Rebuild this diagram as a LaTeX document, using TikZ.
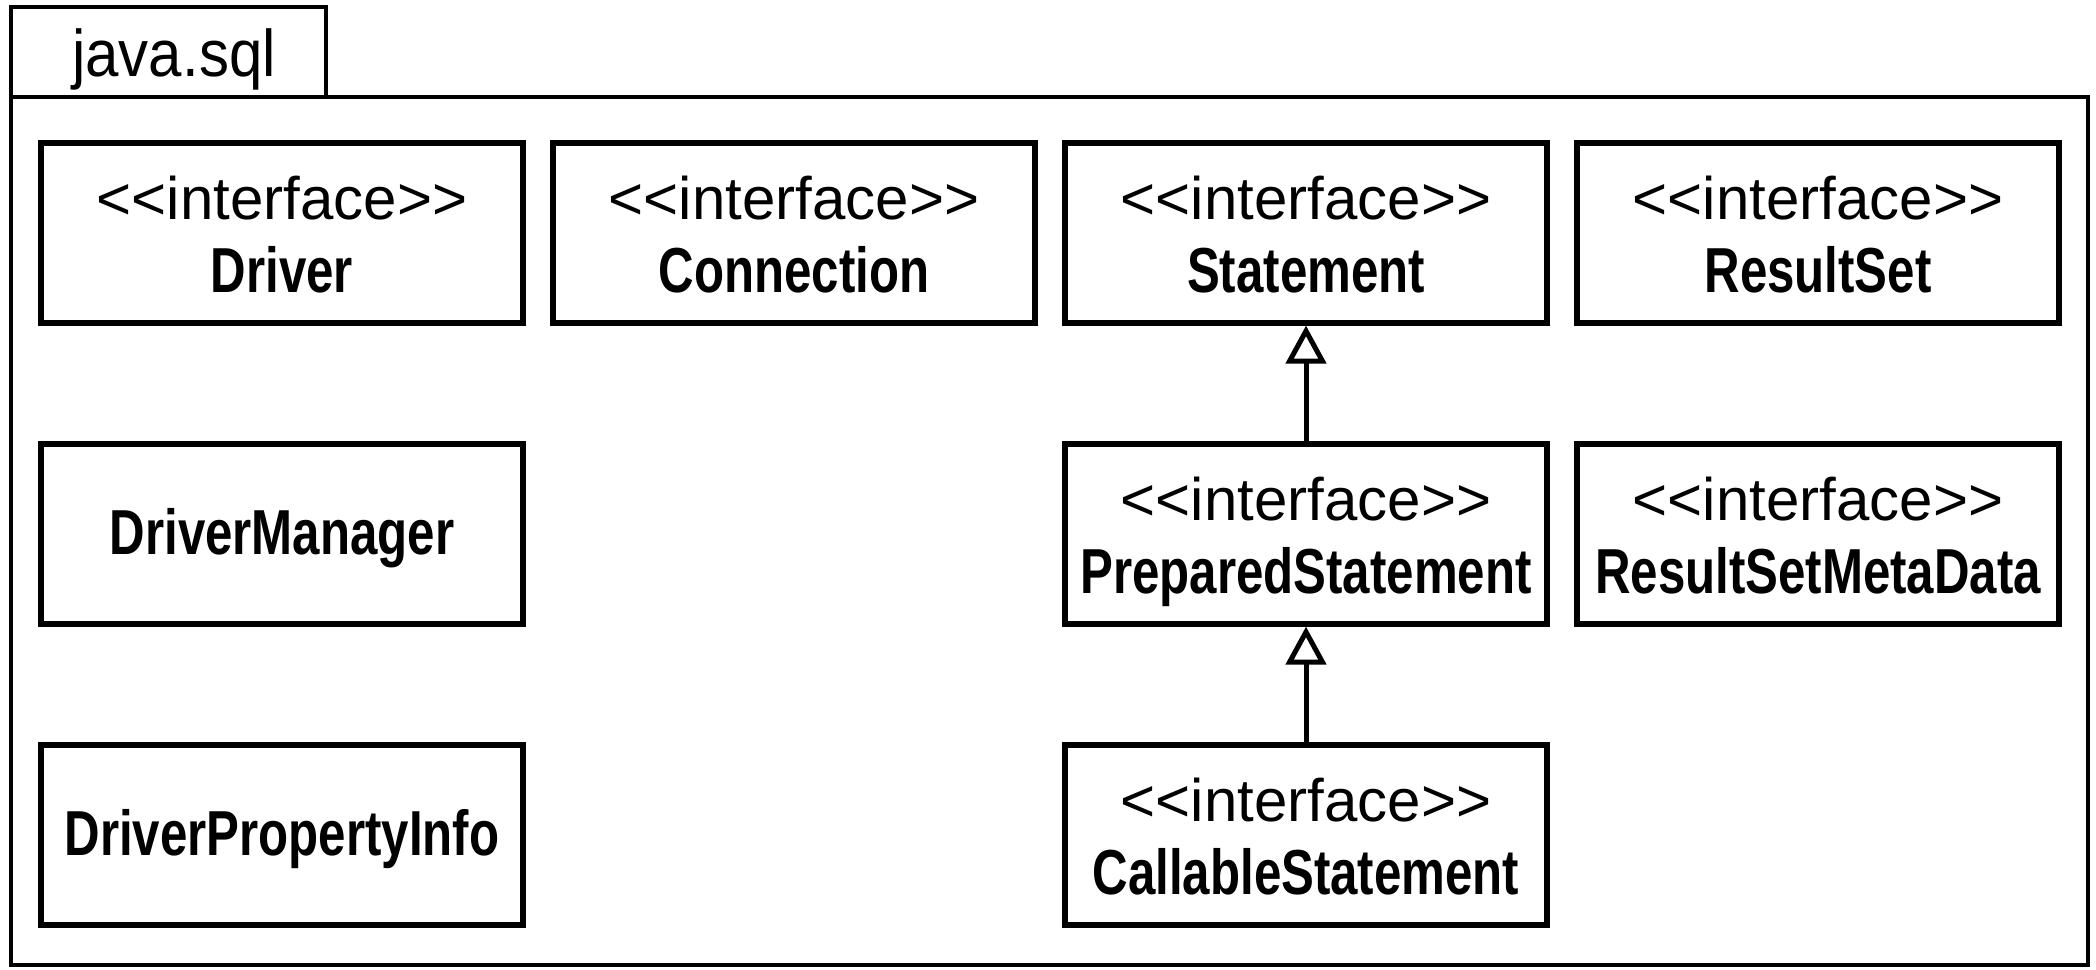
\documentclass[tikz,border=0pt]{standalone}
\usepackage{graphicx}
\usepackage{fontspec}
\setmainfont{Liberation Sans}[Ligatures=TeXOff]
\usetikzlibrary{arrows.meta}
\newcommand\cnd[1]{\scalebox{0.82}[1.06]{\bfseries #1}}
\tikzset{
  frame/.style={draw, line width=2.4pt, inner sep=0pt},
  cls/.style={draw, line width=2.6pt, minimum width=241pt, minimum height=90pt, inner sep=0pt},
  txt/.style={anchor=base, inner sep=0pt, font=\fontsize{30}{36}\selectfont},
  gen/.style={line width=2.5pt, -{Triangle[open, width=20pt, length=19pt]}},
}
\begin{document}
\begin{tikzpicture}[x=0.5pt, y=-0.5pt]
\useasboundingbox (0,0) rectangle (2096,969);
% package frame
\node[frame, minimum width=1038.5pt, minimum height=434pt] (pkg) at (1049.5,531) {};
\node[frame, minimum width=157.5pt, minimum height=45pt] (tab) at (168.5,52) {};
\node[txt] (tabtxt) at (174,76) {\scalebox{1}[1.1]{java.sql}};
% classes
\node[cls] (drv)  at (282,233) {};
\node[cls] (con)  at (794,233) {};
\node[cls] (stmt) at (1306,233) {};
\node[cls] (rs)   at (1818,233) {};
\node[cls] (dm)   at (282,534) {};
\node[cls] (prep) at (1306,534) {};
\node[cls] (rsmd) at (1818,534) {};
\node[cls] (dpi)  at (282,835) {};
\node[cls] (call) at (1306,835) {};
% texts
\node[txt] (drv-s) at ([yshift=7pt]drv.center) {<<interface>>};
\node[txt] (drv-n) at ([yshift=-29.5pt]drv.center) {\cnd{Driver}};
\node[txt] (con-s) at ([yshift=7pt]con.center) {<<interface>>};
\node[txt] (con-n) at ([yshift=-29.5pt]con.center) {\cnd{Connection}};
\node[txt] (stmt-s) at ([yshift=7pt]stmt.center) {<<interface>>};
\node[txt] (stmt-n) at ([yshift=-29.5pt]stmt.center) {\cnd{Statement}};
\node[txt] (rs-s) at ([yshift=7pt]rs.center) {<<interface>>};
\node[txt] (rs-n) at ([yshift=-29.5pt]rs.center) {\cnd{ResultSet}};
\node[txt] (dm-n) at ([yshift=-10pt]dm.center) {\cnd{DriverManager}};
\node[txt] (prep-s) at ([yshift=7pt]prep.center) {<<interface>>};
\node[txt] (prep-n) at ([yshift=-29.5pt]prep.center) {\cnd{PreparedStatement}};
\node[txt] (rsmd-s) at ([yshift=7pt]rsmd.center) {<<interface>>};
\node[txt] (rsmd-n) at ([yshift=-29.5pt]rsmd.center) {\cnd{ResultSetMetaData}};
\node[txt] (dpi-n) at ([yshift=-10pt]dpi.center) {\cnd{DriverPropertyInfo}};
\node[txt] (call-s) at ([yshift=7pt]call.center) {<<interface>>};
\node[txt] (call-n) at ([yshift=-29.5pt]call.center) {\cnd{CallableStatement}};
% generalisations
\draw[gen] (prep.north) -- (stmt.south);
\draw[gen] (call.north) -- (prep.south);
\end{tikzpicture}
\end{document}
